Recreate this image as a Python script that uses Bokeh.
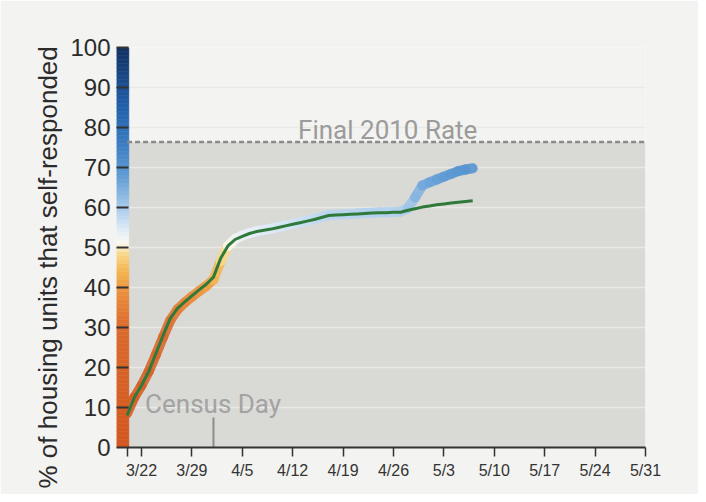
import numpy as np
import pandas as pd
from bokeh.plotting import figure
from bokeh.models import Range1d, FixedTicker, Title
from bokeh.core.properties import value
from bokeh.embed import file_html
from bokeh.resources import INLINE

# ---------------- data ----------------
start_date = "2020-03-20"
end_date = "2020-05-07"
dates = pd.date_range(start_date, end_date, freq="D")

national_rate = [8.0, 12.5, 15.5, 19.0, 23.5, 28.0, 32.3, 34.8, 36.4, 37.9, 39.4, 40.8,
                 42.6, 47.3, 50.4, 52.0, 52.8, 53.5, 54.0, 54.3, 54.6, 55.0, 55.4, 55.8,
                 56.2, 56.6, 57.0, 57.5, 58.0, 58.1, 58.2, 58.3, 58.4, 58.5, 58.6, 58.7,
                 58.7, 58.8, 58.8, 59.3, 59.7, 60.1, 60.4, 60.7, 60.9, 61.1, 61.3, 61.5, 61.7]

state_rate = [8.5, 12.5, 15.5, 19.0, 23.2, 27.6, 31.8, 34.5, 36.2, 37.7, 39.1, 40.4,
              42.0, 46.6, 50.3, 52.1, 53.0, 53.6, 54.1, 54.4, 54.7, 55.1, 55.5, 55.9,
              56.3, 56.7, 57.1, 57.6, 58.1, 58.2, 58.3, 58.4, 58.5, 58.6, 58.7, 58.8,
              58.8, 58.9, 59.0, 59.8, 62.5, 65.5, 66.3, 67.0, 67.7, 68.4, 69.1, 69.5, 69.8]

final_2010_rate = 76.4
census_day = "2020-04-01"

y_ticks = [0, 10, 20, 30, 40, 50, 60, 70, 80, 90, 100]
x_tick_dates = ["2020-03-20", "2020-03-22", "2020-03-29", "2020-04-05", "2020-04-12",
                "2020-04-19", "2020-04-26", "2020-05-03", "2020-05-10", "2020-05-17",
                "2020-05-24", "2020-05-31"]
x_tick_labels = ["", "3/22", "3/29", "4/5", "4/12", "4/19", "4/26", "5/3", "5/10",
                 "5/17", "5/24", "5/31"]

# colour scale stops (value, colour)
scale_values = [0, 30, 38, 44, 48.5, 51, 54, 60, 68, 76, 86, 100]
scale_colors = ["#d2561f", "#da6a2e", "#e98b3c", "#f4b451", "#f8d98c", "#fbf8ee",
                "#e4eff8", "#a8caea", "#5f9bd4", "#3a7cc2", "#1f5ea7", "#123062"]


def ms(d):
    return pd.Timestamp(d).value // 10**6


def hex2rgb(h):
    h = h.lstrip("#")
    return np.array([int(h[i:i + 2], 16) for i in (0, 2, 4)], dtype=float)


_rgb = [hex2rgb(c) for c in scale_colors]


def color_at(v):
    v = min(max(v, scale_values[0]), scale_values[-1])
    for i in range(len(scale_values) - 1):
        a, b = scale_values[i], scale_values[i + 1]
        if a <= v <= b:
            t = (v - a) / (b - a) if b > a else 0
            c = _rgb[i] * (1 - t) + _rgb[i + 1] * t
            return "#%02x%02x%02x" % tuple(int(round(x)) for x in c)
    return scale_colors[-1]


BG = "#f3f3f1"
DAY = 86400000

x_start = ms("2020-03-22") - 3.47 * DAY
x_end = ms("2020-05-31")

p = figure(width=698, height=494, x_axis_type="datetime",
           x_range=Range1d(x_start, x_end), y_range=Range1d(0, 100),
           min_border_left=116, min_border_right=53, min_border_top=47, min_border_bottom=47,
           output_backend="svg", toolbar_location=None,
           background_fill_color=BG, border_fill_color=BG, outline_line_color=None)

# shaded area below the final 2010 rate
shade = p.quad(left=[ms(start_date)], right=[x_end], bottom=[0], top=[final_2010_rate],
               fill_color="#d9d9d6", line_color=None)
shade.level = "image"

# colour bar along the y axis
levels = np.arange(0, 101, 1)
cb_colors = [color_at((a + b) / 2) for a, b in zip(levels[:-1], levels[1:])]
p.quad(left=x_start, right=ms(start_date) + 0.25 * DAY, bottom=levels[:-1], top=levels[1:],
       fill_color=cb_colors, line_color=cb_colors, line_width=0.5)

# final 2010 rate
p.line(x=[ms(start_date), x_end], y=[final_2010_rate, final_2010_rate],
       line_color="#8a8a8a", line_width=2.5, line_dash="5 3")
p.text(x=[ms("2020-04-25") + 0.2 * DAY], y=[final_2010_rate + 2.9], text=["Final 2010 Rate"],
       text_font=value("Roboto"), text_font_size="26px", text_color="#9b9b9b",
       text_align="center", text_baseline="alphabetic")

# census day
p.segment(x0=[ms(census_day)], y0=[0], x1=[ms(census_day)], y1=[7.5],
          line_color="#8d8d8d", line_width=2)
p.text(x=[ms("2020-03-22") + 0.5 * DAY], y=[10.8], text=["Census Day"],
       text_font=value("Roboto"), text_font_size="26px", text_color="#a3a3a3",
       text_align="left", text_baseline="alphabetic")

# gradient line
xs = np.array([ms(d) for d in dates], dtype=float)
sv = np.array(state_rate)
seg_colors = [color_at((a + b) / 2) for a, b in zip(sv[:-1], sv[1:])]
p.segment(x0=xs[:-1], y0=sv[:-1], x1=xs[1:], y1=sv[1:], line_color=seg_colors,
          line_width=10, line_cap="round", line_alpha=0.9)

# green line
p.line(x=xs, y=national_rate, line_color="#2f7a3a", line_width=3, line_join="round")

# grid
p.xgrid.grid_line_color = None
p.ygrid.ticker = FixedTicker(ticks=y_ticks)
p.ygrid.grid_line_color = "#e9e9e6"
p.ygrid.grid_line_width = 1.5

# y axis
p.yaxis.ticker = FixedTicker(ticks=y_ticks)
p.yaxis.axis_line_color = None
p.yaxis.major_tick_in = 12
p.yaxis.major_tick_out = 0
p.yaxis.major_tick_line_color = "#333333"
p.yaxis.major_tick_line_width = 2
p.yaxis.minor_tick_line_color = None
p.yaxis.major_label_text_font = "Liberation Sans"
p.yaxis.major_label_text_font_size = "24px"
p.yaxis.major_label_text_color = "#2b2b2b"
p.yaxis.major_label_standoff = 6

# x axis
tick_ms = [ms(d) for d in x_tick_dates]
p.xaxis.ticker = FixedTicker(ticks=tick_ms)
p.xaxis.major_label_overrides = {t: lab for t, lab in zip(tick_ms, x_tick_labels)}
p.xaxis.bounds = (tick_ms[0], tick_ms[-1])
p.xaxis.axis_line_color = "#333333"
p.xaxis.axis_line_width = 2
p.xaxis.major_tick_in = 0
p.xaxis.major_tick_out = 9
p.xaxis.major_tick_line_color = "#333333"
p.xaxis.major_tick_line_width = 1.5
p.xaxis.minor_tick_line_color = None
p.xaxis.major_label_text_font = "Liberation Sans"
p.xaxis.major_label_text_font_size = "16px"
p.xaxis.major_label_text_color = "#333333"
p.xaxis.major_label_standoff = 5

p.add_layout(Title(text="% of housing units that self-responded", align="left", offset=-41,
                   text_font="Liberation Sans", text_font_size="26px", text_font_style="normal",
                   text_color="#2b2b2b"), "left")

open("out.html", "w").write(file_html(p, INLINE))
